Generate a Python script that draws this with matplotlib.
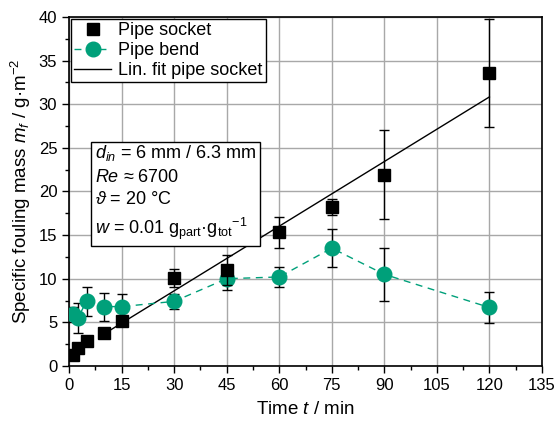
import numpy as np
import matplotlib
matplotlib.use("Agg")
import matplotlib.pyplot as plt
from matplotlib.ticker import MultipleLocator
from matplotlib.lines import Line2D

plt.rcParams['font.family'] = ['Liberation Sans', 'DejaVu Sans']
plt.rcParams['mathtext.fontset'] = 'custom'
plt.rcParams['mathtext.rm'] = 'Liberation Sans'
plt.rcParams['mathtext.it'] = 'Liberation Sans:italic'
plt.rcParams['mathtext.bf'] = 'Liberation Sans:bold'

# Pipe socket
t_socket = [1, 2.5, 5, 10, 15, 30, 45, 60, 75, 90, 120]
m_socket = [1.2, 2.0, 2.9, 3.8, 5.1, 10.1, 11.0, 15.3, 18.2, 21.9, 33.6]
err_socket = [0, 0, 0, 0, 0, 1.05, 1.7, 1.8, 0.9, 5.1, 6.2]

# Pipe bend
t_bend = [1, 2.5, 5, 10, 15, 30, 45, 60, 75, 90, 120]
m_bend = [5.9, 5.5, 7.4, 6.8, 6.8, 7.4, 10.0, 10.2, 13.5, 10.5, 6.7]
err_bend = [0.9, 1.7, 1.7, 1.6, 1.4, 0.85, 1.3, 1.1, 2.2, 3.0, 1.8]

# linear fit of pipe socket (slope, intercept) and range
fit_slope = 0.247
fit_icpt = 1.2
fit_range = [10, 120]

green = '#00A07A'

fig = plt.figure(figsize=(5.57, 4.25), dpi=100)
ax = fig.add_axes([0.124, 0.139, 0.849, 0.821])

xf = np.array(fit_range)
ax.plot(xf, fit_slope * xf + fit_icpt, color='black', lw=1.0, zorder=3)

ax.plot(t_bend, m_bend, color=green, ls=(0, (5, 4)), lw=1.0, zorder=3)
ax.errorbar(t_bend, m_bend, yerr=err_bend, fmt='o', color=green, ms=10.5,
            ecolor='black', elinewidth=1, capsize=3.5, capthick=1, zorder=4)
ax.errorbar(t_socket, m_socket, yerr=err_socket, fmt='s', color='black', ms=9,
            ecolor='black', elinewidth=1, capsize=3.5, capthick=1, zorder=5)

ax.set_xlim(0, 135)
ax.set_ylim(0, 40)
ax.xaxis.set_major_locator(MultipleLocator(15))
ax.xaxis.set_minor_locator(MultipleLocator(7.5))
ax.yaxis.set_major_locator(MultipleLocator(5))
ax.yaxis.set_minor_locator(MultipleLocator(2.5))
ax.grid(True, which='major', color='#a8a8a8', lw=1.0, zorder=0)
ax.set_axisbelow(True)
ax.tick_params(which='major', direction='out', length=5, width=1, labelsize=12,
               colors='black')
ax.tick_params(which='minor', direction='out', length=3, width=1)
for s in ax.spines.values():
    s.set_linewidth(1.2)

ax.set_xlabel('Time $t$ / min', fontsize=13.5, labelpad=6)
ax.set_ylabel('Specific fouling mass $m_f$ / g·m$^{-2}$', fontsize=13.5, labelpad=4)

handles = [
    Line2D([], [], ls='none', marker='s', color='black', ms=9),
    Line2D([], [], ls=(0, (5, 4)), lw=1.0, marker='o', color=green, ms=10.5),
    Line2D([], [], ls='-', lw=1.0, color='black'),
]
labels = ['Pipe socket', 'Pipe bend', 'Lin. fit pipe socket']
leg = ax.legend(handles, labels, loc='upper left',
                fontsize=13, frameon=True, fancybox=False, edgecolor='black',
                framealpha=1, borderpad=0.2, labelspacing=0.15, handlelength=2.0,
                handletextpad=0.4, borderaxespad=0.1)
leg.get_frame().set_linewidth(1.0)
leg.set_zorder(7)

txt = ('$d_{in}$ = 6 mm / 6.3 mm\n'
       '$Re$ ≈ 6700\n'
       '$\\vartheta$ = 20 °C\n'
       '$w$ = 0.01 g$_{\\rm part}$·g$_{\\rm tot}$$^{-1}$')
ax.text(0.055, 0.497, txt, transform=ax.transAxes, fontsize=13, va='center',
        ha='left', linespacing=1.42, zorder=6,
        bbox=dict(boxstyle='square,pad=0.2', fc='white', ec='black', lw=1.0))

fig.savefig('out.png', dpi=100)
